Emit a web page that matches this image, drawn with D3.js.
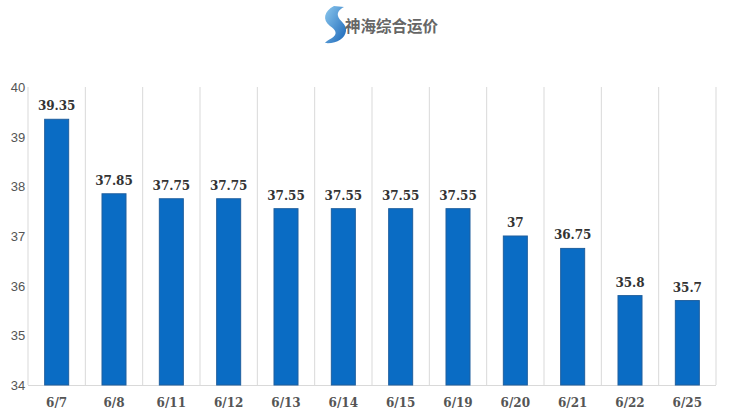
<!DOCTYPE html><html><head><meta charset="utf-8"><script src="https://cdn.jsdelivr.net/npm/d3@7"></script>
<style>body{margin:0;background:#fff}</style></head><body><svg id="c" width="736" height="420"></svg>
<script>
const categories=["6/7","6/8","6/11","6/12","6/13","6/14","6/15","6/19","6/20","6/21","6/22","6/25"];
const values=[39.35,37.85,37.75,37.75,37.55,37.55,37.55,37.55,37,36.75,35.8,35.7];
const labels=["39.35","37.85","37.75","37.75","37.55","37.55","37.55","37.55","37","36.75","35.8","35.7"];
const yTicks=[34,35,36,37,38,39,40];
const svg=d3.select("#c");
const x=d3.scaleBand().domain(categories).range([28,716]).paddingInner(0).paddingOuter(0);
const y=d3.scaleLinear().domain([34,40]).range([385,87]);
const seps=categories.map((c,i)=>x(c)).concat([716]);
svg.selectAll("line.s").data(seps).enter().append("line").attr("x1",d=>d).attr("x2",d=>d).attr("y1",87).attr("y2",385).attr("stroke","#d9d9d9").attr("stroke-width",1);
svg.append("line").attr("x1",28).attr("x2",716).attr("y1",385.5).attr("y2",385.5).attr("stroke","#d9d9d9");
const bw=24;
svg.selectAll("rect.b").data(values).enter().append("rect")
 .attr("x",(d,i)=>x(categories[i])+x.bandwidth()/2-bw/2).attr("width",bw)
 .attr("y",d=>y(d)).attr("height",d=>385-y(d)).attr("fill","#0a6cc4").attr("stroke","#1f5f9e").attr("stroke-width",1);
svg.selectAll("text.v").data(values).enter().append("text")
 .attr("x",(d,i)=>x(categories[i])+x.bandwidth()/2).attr("y",d=>y(d)-9)
 .attr("text-anchor","middle").attr("font-family","DejaVu Serif, serif").attr("font-weight","bold").attr("font-size",12).attr("fill","#333")
 .text((d,i)=>labels[i]);
svg.selectAll("text.y").data(yTicks).enter().append("text")
 .attr("x",18).attr("y",d=>y(d)+5).attr("text-anchor","middle").attr("font-family","Liberation Sans, sans-serif").attr("font-size",13).attr("fill","#555").text(d=>d);
svg.selectAll("text.x").data(categories).enter().append("text")
 .attr("x",d=>x(d)+x.bandwidth()/2).attr("y",407).attr("text-anchor","middle").attr("font-family","DejaVu Serif, serif").attr("font-weight","bold").attr("font-size",12).attr("fill","#555").text(d=>d);
const g=svg.append("g");
const grad=svg.append("defs").append("linearGradient").attr("id","lg").attr("x1",0).attr("y1",0).attr("x2",1).attr("y2",1);
grad.append("stop").attr("offset",0).attr("stop-color","#8cc8ee");grad.append("stop").attr("offset",1).attr("stop-color","#1a66b8");
g.append("path").attr("d","M334,6 C324,11 322,20 330,26 C336,30 338,34 332,38 C329,40 326,41 325,43 C336,44 345,39 346,31 C347,24 339,21 338,16 C337,12 340,9 344,7 Z").attr("fill","url(#lg)");
g.append("text").attr("x",345).attr("y",32).attr("font-family","Noto Sans CJK SC").attr("font-weight","bold").attr("font-size",15.5).attr("fill","#666").text("神海综合运价");
</script></body></html>
